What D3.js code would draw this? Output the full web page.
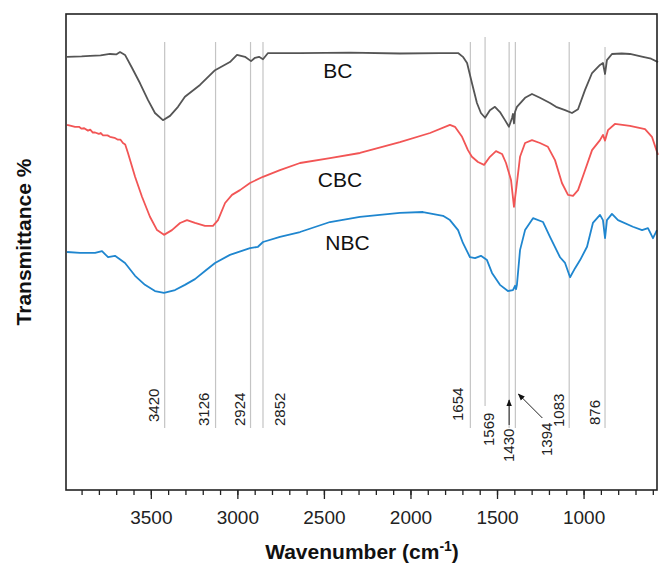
<!DOCTYPE html>
<html>
<head>
<meta charset="utf-8">
<script src="https://cdn.jsdelivr.net/npm/d3@7"></script>
<style>
	body { margin: 0; background: #fff; }
	svg { display: block; font-family: 'Liberation Sans', Arial, sans-serif; }
</style>
</head>
<body>
<div id="chart"></div>
<script>
// FTIR spectra, [wavenumber cm-1, transmittance (offset, a.u.)]
var bcData = [
	[3984, 91.0], [3900, 91.1], [3851, 91.2], [3790, 91.3], [3736, 91.6], [3700, 91.5], [3678, 92.0],
	[3649, 91.4], [3609, 88.7], [3563, 85.5], [3516, 81.9], [3476, 79.2], [3430, 77.7],
	[3389, 78.6], [3343, 80.5], [3303, 82.6], [3216, 85.1], [3129, 88.2], [3043, 89.9],
	[3002, 91.4], [2956, 91.0], [2921, 90.1], [2898, 90.8], [2875, 91.0], [2852, 90.5],
	[2823, 91.8], [2638, 91.8], [2349, 91.9], [2061, 91.7], [1829, 91.8], [1725, 91.8],
	[1697, 91.0], [1673, 89.7], [1645, 85.5], [1616, 81.3], [1593, 79.2], [1569, 78.2],
	[1541, 79.8], [1512, 80.5], [1483, 79.4], [1454, 77.7], [1431, 76.3], [1413, 78.2],
	[1408, 79.0], [1402, 77.0], [1396, 79.4], [1385, 80.5], [1338, 82.4], [1298, 83.2],
	[1252, 82.4], [1194, 81.3], [1159, 80.5], [1107, 79.8], [1067, 79.2], [1032, 80.0],
	[992, 84.0], [951, 87.6], [905, 89.3], [888, 89.7], [876, 87.4], [865, 90.3],
	[836, 91.6], [780, 91.7], [732, 91.6], [657, 91.0], [610, 90.6], [570, 89.9]
];

var cbcData = [
	[3984, 76.7], [3960, 76.5], [3938, 76.3], [3915, 76.3], [3900, 75.9], [3885, 76.0],
	[3863, 75.5], [3850, 75.7], [3835, 75.1], [3822, 75.1], [3800, 74.8], [3790, 75.0],
	[3776, 74.5], [3750, 74.5], [3736, 74.2], [3710, 74.0], [3690, 73.6], [3675, 73.6],
	[3661, 72.9], [3648, 72.6], [3632, 70.8], [3591, 65.8], [3551, 61.6], [3505, 57.4],
	[3464, 54.6], [3424, 53.6], [3378, 54.6], [3331, 56.1], [3291, 56.7], [3245, 56.1],
	[3187, 55.5], [3141, 55.5], [3112, 56.7], [3071, 60.3], [3031, 62.0], [2985, 63.0],
	[2927, 64.5], [2852, 65.8], [2754, 67.2], [2638, 68.7], [2465, 69.7], [2292, 70.8],
	[2061, 73.1], [1887, 75.0], [1772, 76.7], [1743, 76.3], [1702, 74.2], [1668, 71.4],
	[1645, 70.0], [1610, 68.9], [1575, 68.3], [1541, 70.0], [1506, 71.2], [1471, 70.6],
	[1448, 68.7], [1419, 65.1], [1402, 59.5], [1385, 64.5], [1367, 70.0], [1338, 72.9],
	[1298, 73.5], [1252, 72.9], [1206, 72.1], [1165, 69.3], [1125, 64.5], [1090, 62.0],
	[1061, 61.8], [1032, 63.0], [997, 66.6], [951, 71.4], [905, 73.5], [888, 74.6],
	[876, 73.4], [859, 75.6], [819, 76.9], [732, 76.5], [645, 75.8], [605, 74.2], [570, 70.4]
];

var nbcData = [
	[3984, 50.0], [3909, 49.8], [3822, 49.8], [3782, 50.2], [3747, 48.9], [3707, 49.2],
	[3649, 47.7], [3591, 45.0], [3534, 43.1], [3476, 41.8], [3424, 41.4], [3360, 42.0],
	[3303, 43.1], [3245, 44.3], [3187, 46.0], [3129, 47.7], [3043, 49.4], [2927, 50.8],
	[2881, 51.1], [2852, 52.1], [2754, 53.2], [2638, 54.2], [2465, 56.3], [2292, 57.4],
	[2061, 58.2], [1928, 58.4], [1812, 57.6], [1772, 56.7], [1725, 54.6], [1697, 51.9],
	[1656, 48.9], [1627, 48.7], [1593, 49.2], [1558, 48.3], [1529, 45.6], [1483, 43.1],
	[1437, 41.8], [1408, 42.0], [1396, 42.9], [1390, 42.2], [1385, 43.1], [1367, 50.4],
	[1338, 54.6], [1292, 57.1], [1234, 56.3], [1194, 53.2], [1136, 48.9], [1107, 47.7],
	[1078, 44.7], [1049, 46.6], [1020, 48.3], [980, 51.1], [946, 56.1], [905, 57.8],
	[888, 56.7], [876, 52.9], [865, 56.7], [836, 58.0], [801, 56.7], [715, 55.3],
	[662, 54.6], [628, 55.0], [599, 52.9], [576, 54.6]
];

var seriesNames = ['BC', 'CBC', 'NBC'];
var seriesColors = ['#555555', '#f25555', '#1f86cf'];
var peaks = [3420, 3126, 2924, 2852, 1654, 1569, 1430, 1394, 1083, 876];
var majorTicks = [3500, 3000, 2500, 2000, 1500, 1000];
var minorTicks = d3.range(3900, 500, -100);

var width = 659, height = 564;
var margin = {top: 14, right: 1, bottom: 74, left: 66};

var svg = d3.select('#chart')
	.append('svg')
	.attr('width', width)
	.attr('height', height);

var x = d3.scaleLinear()
	.domain([3990, 570])
	.range([margin.left, width - margin.right]);

var y = d3.scaleLinear()
	.domain([0, 100])
	.range([height - margin.bottom, margin.top]);

// peak marker lines
var lineTop = 42, lineBottom = 428;
var labelPos = {
	3420: {dx: -6, y: 422}, 3126: {dx: -7, y: 426}, 2924: {dx: -6, y: 426},
	2852: {dx: 22, y: 426}, 1654: {dx: -7, y: 421}, 1569: {dx: 9, y: 446},
	1430: {dx: 5, y: 462}, 1394: {dx: 37, y: 456}, 1083: {dx: -5, y: 427},
	876: {dx: -5, y: 425}
};

svg.append('g')
	.selectAll('line')
	.data(peaks)
	.enter()
	.append('line')
	.attr('x1', function(d) { return x(d); })
	.attr('x2', function(d) { return x(d); })
	.attr('y1', function(d) { return d == 1569 ? lineTop - 5 : (d == 876 ? lineTop + 5 : lineTop); })
	.attr('y2', function(d) { return d == 1569 ? lineBottom - 22 : lineBottom; })
	.attr('stroke', '#c4c4c4')
	.attr('stroke-width', 1.2);

svg.append('g')
	.selectAll('text')
	.data(peaks)
	.enter()
	.append('text')
	.attr('transform', function(d) {
		return 'translate(' + (x(d) + labelPos[d].dx) + ',' + labelPos[d].y + ') rotate(-90)';
	})
	.style('font-size', '15px')
	.attr('fill', '#222')
	.text(function(d) { return d; });

// arrows for 1430 and 1394
svg.append('defs').append('marker')
	.attr('id', 'head')
	.attr('viewBox', '0 0 10 10')
	.attr('refX', 9).attr('refY', 5)
	.attr('markerWidth', 7).attr('markerHeight', 7)
	.attr('orient', 'auto')
	.append('path')
	.attr('d', 'M0,1 L10,5 L0,9 z')
	.attr('fill', '#111');

svg.append('line')
	.attr('x1', x(1430)).attr('y1', 425)
	.attr('x2', x(1430)).attr('y2', 400)
	.attr('stroke', '#222').attr('stroke-width', 1)
	.attr('marker-end', 'url(#head)');

svg.append('line')
	.attr('x1', x(1394) + 27).attr('y1', 418)
	.attr('x2', x(1394) + 3).attr('y2', 394)
	.attr('stroke', '#222').attr('stroke-width', 1)
	.attr('marker-end', 'url(#head)');

// spectra
var line = d3.line()
	.x(function(d) { return x(d[0]); })
	.y(function(d) { return y(d[1]); });

var allData = [bcData, cbcData, nbcData];

svg.append('g')
	.selectAll('path')
	.data(allData)
	.enter()
	.append('path')
	.attr('d', line)
	.attr('fill', 'none')
	.attr('stroke', function(d, i) { return seriesColors[i]; })
	.attr('stroke-width', 1.8)
	.attr('stroke-linejoin', 'round');

var nameSpots = [[2419, 78], [2407, 187], [2364, 250]];

svg.append('g')
	.selectAll('text')
	.data(seriesNames)
	.enter()
	.append('text')
	.attr('x', function(d, i) { return x(nameSpots[i][0]); })
	.attr('y', function(d, i) { return nameSpots[i][1]; })
	.attr('text-anchor', 'middle')
	.style('font-size', '21px')
	.attr('fill', '#111')
	.text(function(d) { return d; });

// axes
var gx = svg.append('g')
	.attr('transform', 'translate(0,' + (height - margin.bottom) + ')');

gx.append('g')
	.call(d3.axisBottom(x).tickValues(minorTicks).tickSize(5).tickFormat(''))
	.call(function(g) { g.select('.domain').remove(); });

gx.append('g')
	.call(d3.axisBottom(x).tickValues(majorTicks).tickSize(9).tickPadding(12).tickFormat(d3.format('d')))
	.call(function(g) { g.select('.domain').remove(); })
	.selectAll('text')
	.style('font-size', '19px')
	.attr('fill', '#222')
	.style('font-family', "'Liberation Sans', Arial, sans-serif");

gx.selectAll('.tick line').attr('stroke', '#222').attr('stroke-width', 1.3);

svg.append('rect')
	.attr('x', margin.left)
	.attr('y', margin.top)
	.attr('width', width - margin.left - margin.right - 1)
	.attr('height', height - margin.top - margin.bottom)
	.attr('fill', 'none')
	.attr('stroke', '#222')
	.attr('stroke-width', 1.6);

var title = svg.append('text')
	.attr('x', (margin.left + width - margin.right) / 2)
	.attr('y', 559)
	.attr('text-anchor', 'middle')
	.style('font-size', '21px')
	.style('font-weight', 'bold')
	.attr('fill', '#111');
title.append('tspan').text('Wavenumber (cm');
title.append('tspan').attr('dy', -8).style('font-size', '14px').text('-1');
title.append('tspan').attr('dy', 8).text(')');

svg.append('text')
	.attr('transform', 'translate(31,242) rotate(-90)')
	.attr('text-anchor', 'middle')
	.style('font-size', '21px')
	.style('font-weight', 'bold')
	.attr('fill', '#111')
	.text('Transmittance %');
</script>
</body>
</html>
